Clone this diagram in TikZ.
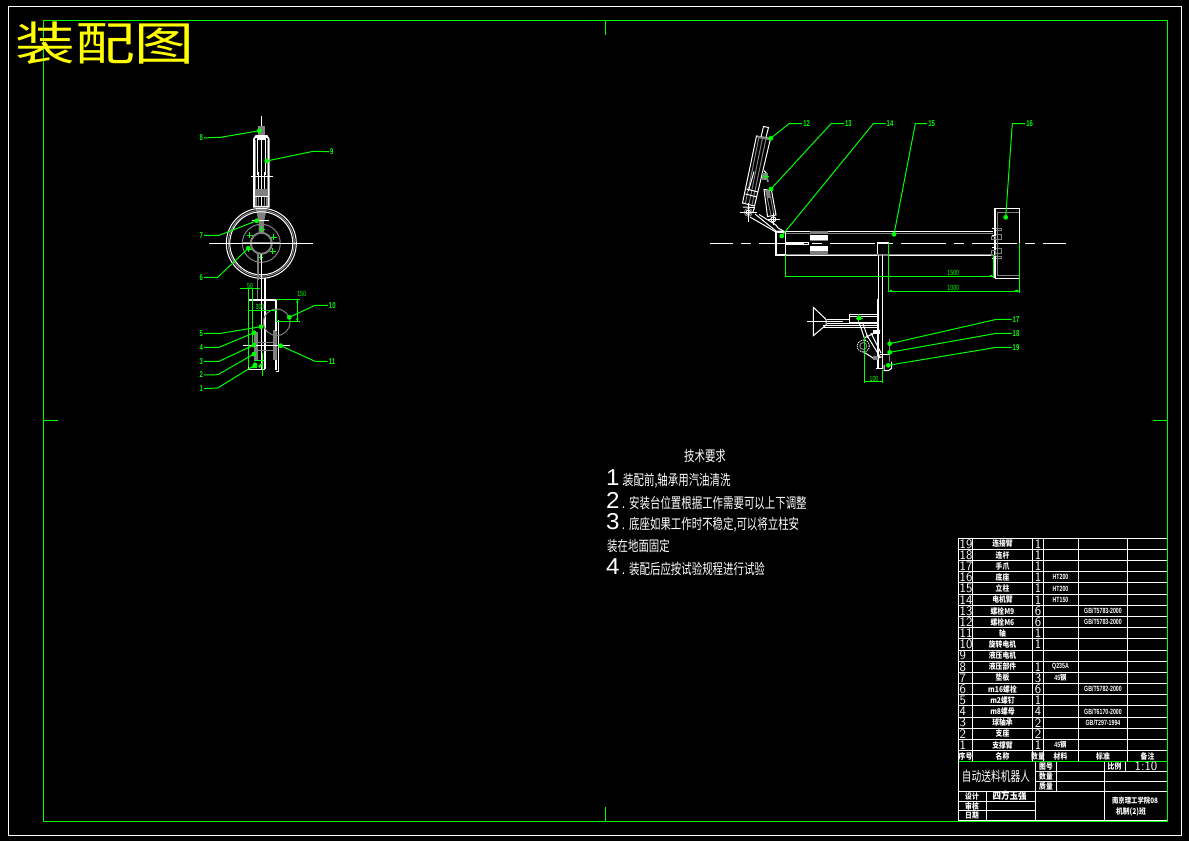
\documentclass[tikz,border=0pt]{standalone}
\usepackage{fontspec}
\usetikzlibrary{calc}
\newfontfamily\cjkbig[FakeStretch=1.3]{Noto Sans CJK SC}
\newfontfamily\cjknote[FakeStretch=0.72]{Noto Sans CJK SC}
\newfontfamily\cjkcell[FakeStretch=0.85]{Noto Sans CJK SC}
\newfontfamily\cadnum[FakeStretch=0.7]{Liberation Sans}
\newfontfamily\cadwide[FakeStretch=1.05]{Liberation Sans}
\newcommand{\bigd}[2]{\makebox[#1pt][l]{{\cadwide\fontsize{23}{23}\selectfont #2}\,.}}
\definecolor{cadgreen}{RGB}{0,255,0}
\definecolor{cadgray}{RGB}{128,128,128}
\definecolor{cadyellow}{RGB}{255,255,0}
\tikzset{
  wl/.style={draw=white, line width=1pt},
  wt/.style={draw=white, line width=1.6pt},
  gl/.style={draw=cadgray, line width=1pt},
  gt/.style={draw=cadgray, line width=2pt},
  gr/.style={draw=cadgreen, line width=1pt},
  numlbl/.style={text=cadgreen, inner sep=1pt, font=\cadnum\fontsize{8.5}{8.5}\selectfont\bfseries},
  dimlbl/.style={text=cadgreen, inner sep=0pt, font=\cadnum\fontsize{7.5}{7.5}\selectfont},
  note/.style={text=white, anchor=west, inner sep=0pt, font=\cjknote\fontsize{14.5}{15}\selectfont},
  cell/.style={text=white, inner sep=0pt, font=\cjkcell\bfseries\fontsize{8}{8}\selectfont},
  cellnum/.style={text=white, inner sep=0pt, font=\sffamily\fontsize{13}{13}\selectfont},
  cellsm/.style={text=white, inner sep=0pt, font=\cadnum\fontsize{7.5}{8}\selectfont\bfseries},
}
\begin{document}
\begin{tikzpicture}[x=1pt, y=-1pt]
  \fill[black] (0,0) rectangle (1189,841);
  \useasboundingbox (0,0) rectangle (1189,841);
  % frames
  \draw[wl] (8.5,6) rectangle (1181.7,835);
  \draw[gr] (43.5,20.5) rectangle (1167,821);
  \draw[gr] (605.5,20.5) -- (605.5,35);
  \draw[gr] (605.5,807) -- (605.5,821);
  \draw[gr] (43.5,420.5) -- (58,420.5);
  \draw[gr] (1153,420.5) -- (1167,420.5);
  \node[text=cadyellow, inner sep=0pt, font=\cjkbig\fontsize{46}{46}\selectfont] (heading) at (105,43) {装配图};

  % left view, cylinder
  \draw[wl] (261.3,116) -- (261.3,208);
  \fill[cadgray] (258,126) rectangle (264.7,136);
  \draw[wt] (254,206.7) -- (254,139) -- (256,136) -- (267,136) -- (268.7,139) -- (268.7,206.7) -- cycle;
  \draw[wl] (256,137.5) -- (267,137.5);
  \draw[wt] (257,139) -- (266,139);
  \draw[gl] (255.5,140) -- (255.5,190);
  \draw[gl] (267,140) -- (267,190);
  \draw[wl] (257.5,140) -- (257.5,175);
  \draw[wl] (265.5,140) -- (265.5,175);
  \draw[wl] (251,176.7) -- (272.7,176.7);
  \draw[wl] (258,172) -- (258,190) (264.5,172) -- (264.5,190);
  \fill[cadgray] (255,189) rectangle (267.5,197);
  \draw[gt] (256,197) -- (256,206) (266.5,197) -- (266.5,206);
  \draw[gl] (258.5,197) -- (258.5,206) (264,197) -- (264,206);
  \draw[wl] (255,196) -- (267.5,196);
  \fill[cadgray] (255.5,207) -- (267,207) -- (264,222) -- (264,232) -- (258.5,232) -- (258.5,222) -- cycle;
  \draw[wl] (252,220.5) -- (269,220.5);

  % left view, wheel
  \coordinate (wheelc) at (261.3,243.3);
  \draw[wl] (wheelc) circle (35);
  \draw[gl] (wheelc) circle (33);
  \draw[wl] (wheelc) circle (31.5);
  \draw[gl] (wheelc) circle (19);
  \draw[gt] (wheelc) circle (10.5);
  \draw[gt] (242,243.3) -- (280,243.3);
  \draw[wl] (209,243.3) -- (312.7,243.3);
  \foreach \a in {-88,-25,35,95,155,215} {
    \draw[gr] ($(wheelc)+(\a:14)+(-3,0)$) -- ($(wheelc)+(\a:14)+(3,0)$);
    \draw[gr] ($(wheelc)+(\a:14)+(0,-3)$) -- ($(wheelc)+(\a:14)+(0,3)$);
  }
  \draw[gt] (258,254) -- (258,280);
  \draw[wl] (261.5,254) -- (261.5,370);
  \draw[gl] (257.5,280) -- (257.5,300);
  \draw[wt] (265,278) -- (265,369);

  % left view, lower box
  \draw[wt] (248,299.7) -- (276,299.7) -- (276,370);
  \draw[wl] (278,320) -- (278,371) -- (276,371);
  \draw[wl] (248,299.7) -- (248,369) -- (265,369);
  \draw[gl] (276.7,322.3) circle (13.3);
  \fill[cadgray] (254,332) rectangle (257.5,360);
  \fill[cadgray] (273,330) rectangle (276.5,360);
  \draw[gl] (254,342.5) -- (276,342.5);
  \draw[gl] (254,350) -- (276,350);
  \draw[wl] (243,345.7) -- (290,345.7);
  \draw[wt] (276,322) -- (276,331);
  % left view, dimensions
  \draw[gr] (248,288) -- (248,367);
  \draw[gr] (252.7,288) -- (252.7,343);
  \draw[gr] (240,288.3) -- (260,288.3);
  \node[dimlbl] (dimfifty) at (250,286) {50};
  \draw[gr] (248,310) -- (276.7,310);
  \node[dimlbl] (dimthree) at (260,307) {300};
  \draw[gr] (276.7,309) -- (276.7,322);
  \draw[gr] (276.7,321.3) -- (300,321.3);
  \draw[gr] (276,299.3) -- (300,299.3);
  \draw[gr] (297.3,300) -- (297.3,321);
  \fill[cadgreen] (297.3,302) circle (1.3) (297.3,319) circle (1.3);
  \node[dimlbl] (dimfifteen) at (301.7,293.5) {150};
  \draw[gr] (262.7,353) -- (262.7,376);
  \draw[gr] (254,360.5) -- (264,360.5);
  \fill[cadgreen] (258,366) -- (263,362) -- (260,368) -- cycle;
  \fill[cadgreen] (251,368) -- (255,362) -- (257,368) -- cycle;

  % right view, arm
  \draw[wl, dash pattern=on 45pt off 8pt on 10pt off 8pt, dash phase=22pt] (710,243.3) -- (1066,243.3);
  \draw[wt] (785,232) -- (776,232) -- (776,255) -- (785,255);
  \draw[wl] (776,231.7) -- (993.3,231.7);
  \draw[wl] (776,255.3) -- (993.3,255.3);
  \draw[gl] (785,233.5) -- (993.3,233.5);
  \draw[gl] (785,254) -- (993.3,254);
  \draw[wl] (785,232) -- (785,255);
  \draw[wl] (785,242.5) -- (808.5,242.5);
  \draw[wl] (808.5,242.5) -- (808.5,244.5) -- (785,244.5);
  \fill[cadgray] (810,231) rectangle (828,233);
  \fill[white] (810,235) rectangle (828,240);
  \fill[cadgray] (810,240) rectangle (828,241);
  \fill[white] (810,246) rectangle (828,251);
  \fill[cadgray] (810,251) rectangle (828,254);

  % right view, flange
  \draw[wt] (995,208.3) -- (1019.3,208.3) (995,278.3) -- (1019.3,278.3) (995,208.3) -- (995,278.3);
  \draw[wl] (1019.3,208.3) -- (1019.3,278.3);
  \draw[gl] (1019,212.3) -- (997.3,212.3) -- (997.3,275.3) -- (1019,275.3);
  \foreach \ya/\yb in {228.3/230.7,234/239.3,248.3/253.3,256/258.7} {
    \draw[gl] (995,\ya) rectangle (1001.5,\yb);
  }
  \draw[wt] (992,228.5) -- (995,228.5) -- (995,235.5) -- (992,235.5);
  \draw[gl] (991,236) rectangle (995,239.5);
  \draw[wt] (992,247.5) -- (995,247.5) -- (995,258.5) -- (992,258.5);
  \draw[gl] (991,250) rectangle (995,255);

  % right view, cylinders
  \draw[wl] (763.5,126.5) -- (768.5,127.5) -- (765.7,138.5) -- (761,137) -- cycle;
  \draw[wl] (756.5,136) -- (770.5,138.5) -- (754.5,206) -- (742.5,203) -- cycle;
  \draw[gt] (758,137) -- (769,139);
  \draw[gl] (759,137) -- (745.5,203) (762.5,138) -- (749,204) (766,138.5) -- (752,205);
  \draw[wl] (748.5,191) -- (754,171.5);
  \draw[wl] (746.5,189) -- (758,192) (745.5,194) -- (757,197);
  \draw[wl] (743,207) -- (754.5,207.5) -- (753,212);
  \draw[gl] (748.3,212.3) circle (4);
  \draw[wl] (748.3,212.3) circle (2.2);
  \draw[wl] (740,212.3) -- (757,212.3) (748.3,203) -- (748.3,222);
  \draw[wl] (764,170.5) -- (767,174) -- (768,182);
  \fill[cadgray] (762,173) rectangle (768,180);
  \draw[gr] (763,176.7) -- (769,176.7) (765.7,173) -- (765.7,180);
  \draw[wl] (764,189.5) -- (771.5,190.5) -- (776,215) -- (767.5,216.5) -- cycle;
  \fill[cadgray] (765,190) -- (770,191) -- (771,198) -- (767,198) -- cycle;
  \draw[gl] (767,197) -- (771,215) (770.5,197) -- (774,215);
  \draw[wl] (773.3,213) -- (773.3,225) (768,219.3) -- (780,219.3);
  \draw[wl] (773.3,219.3) circle (2.5);
  \draw[wl] (755,214) -- (776,231) -- (783.5,231);
  \draw[wl] (750,217) -- (775,231.5);
  \draw[wl] (759,214.5) -- (776,225) -- (778,228) -- (783.5,231);

  % post and gripper
  \draw[wt] (877.3,242.7) -- (888.7,242.7);
  \draw[wl] (877.3,242.7) -- (877.3,255);
  \draw[gt] (877.3,254.5) -- (888.7,254.5);
  \draw[wl] (878.3,255) -- (878.3,368);
  \draw[wl] (882.3,255) -- (882.3,368);
  \draw[wt] (877.3,299) -- (877.3,368);
  \draw[wl] (876,368.3) -- (883,368.3);
  \draw[wl] (880,354.5) -- (889,354.5) -- (889,340);
  \draw[gl] (889.3,339) -- (889.3,362);
  \draw[wl] (884,365) -- (884,370.7) -- (888.3,370.7) -- (891.7,368.3) -- (891.7,361.7);
  \draw[wl] (813.3,307.3) -- (826,319.3) -- (826,325) -- (813.3,335.7) -- cycle;
  \draw[wl] (807,321.3) -- (843,321.3);
  \draw[wl] (826.7,319.3) -- (849.3,319.3);
  \draw[wl] (826.7,323.3) -- (849.3,323.3);
  \draw[wl] (823,325) -- (877.3,325);
  \draw[wl] (823,327.7) -- (877.3,327.7);
  \draw[wl] (849.3,314) -- (877.3,314);
  \draw[wl] (849.3,316) -- (877.3,316);
  \draw[wl] (849.3,314) -- (849.3,323.3) -- (877.3,323.3);
  \fill[white] (849.3,321.5) rectangle (877.3,323.3);
  \draw[gr] (855.5,318.3) -- (863,318.3) (858.7,314) -- (858.7,322);
  \fill[cadgreen] (857,316) rectangle (860.5,320);
  \draw[wl] (859.5,323.5) -- (865,340) (863,324) -- (868,338);
  \draw[wl, densely dotted] (863.3,346) circle (6);
  \draw[gl] (863.3,346) circle (3.5);
  \draw[wl] (865,337.5) -- (880,330.7) (870,335) -- (880,330);
  \fill[white] (872.7,330) rectangle (880,333.5);
  \draw[wl] (863.3,351.7) -- (875,359.3) -- (881.7,356.7);
  \draw[wl] (866.7,335) -- (880,356.7) (871,333) -- (881,353);
  \fill[cadgray] (873,356) rectangle (878,360);
  % right view, dimensions
  \draw[gr] (785,255) -- (785,276.3);
  \draw[gr] (785,276.3) -- (993.3,276.3);
  \draw[gr] (993.3,255) -- (993.3,278);
  \node[dimlbl] (dimlong) at (953.3,273) {1500};
  \draw[gr] (888.3,242.7) -- (888.3,292);
  \draw[gr] (1019.3,243) -- (1019.3,292.7);
  \draw[gr] (888.3,291.3) -- (1019.3,291.3);
  \node[dimlbl] (dimshort) at (953.3,288) {1000};
  \fill[cadgreen] (890,290) rectangle (892,291) (1015,290) rectangle (1018,291) (990,275) rectangle (992,276);
  \draw[gr] (864.3,336.7) -- (864.3,383.3);
  \draw[gr] (882.3,370) -- (882.3,383.3);
  \draw[gr] (864.3,381.7) -- (882.3,381.7);
  \node[dimlbl] (dimhund) at (874,378.5) {100};

  % leaders
  \foreach \n/\tx/\ty/\bx/\by/\dx/\dy in {
    1/201.3/388.7/217.7/388/255/365,
    2/201.3/375/217.7/374.7/254/354,
    3/201.3/361.3/219/361.3/254/345,
    4/201.3/347.3/219/347.3/254/332.7,
    5/201.3/333.3/220.7/333.3/261/326.7,
    6/201.3/277.3/217.7/277.3/248.3/248.3,
    7/201.3/235.3/219.3/235.3/256.7/220.7,
    8/201.3/138/220.7/137.3/259.3/130.7,
    9/331.7/151.7/313.3/151.3/266.7/161,
    10/332.3/305.3/315/305.3/289.3/317.3,
    11/332/361.3/315/361.3/280.7/345.7,
    12/806.7/123.7/789/123.7/770.7/138.3,
    13/848.3/123.7/831/123.7/771/189,
    14/890/123.7/873.3/123.7/781.7/236,
    15/931.7/123.7/915.3/123.7/894/234.3,
    16/1029.7/123.7/1012.3/123.7/1005.7/217.3,
    17/1016/319.3/996.7/319.3/889.7/343.7,
    18/1016/333.3/996.7/333.3/889.7/352.3,
    19/1016/347.3/996.7/347.3/888.3/365.3} {
    \node[numlbl] (lbl\n) at (\tx,\ty) {\n};
    \coordinate (bend\n) at (\bx,\by);
    \coordinate (dot\n) at (\dx,\dy);
    \draw[gr] (dot\n) -- (bend\n) -- (lbl\n);
    \fill[cadgreen] (dot\n) circle (2.4);
  }

  % technical notes
  \node[note, anchor=center] (reqtitle) at (705,456) {技术要求};
  \node[note] (reqa) at (606,479) {\bigd{17}{1}装配前,轴承用汽油清洗};
  \node[note] (reqb) at (606,501) {\bigd{23}{2}安装台位置根据工作需要可以上下调整};
  \node[note] (reqc) at (606,523) {\bigd{23}{3}底座如果工作时不稳定,可以将立柱安};
  \node[note] (reqd) at (607,546) {装在地面固定};
  \node[note] (reqe) at (606,567) {\bigd{23}{4}装配后应按试验规程进行试验};

  % parts table
  \foreach \k in {0,...,20} {
    \draw[wl] (958.3,538.3+11.17*\k) -- (1167,538.3+11.17*\k);
  }
  \draw[gr] (958.3,761.7) -- (1167,761.7);
  \foreach \cx in {958.3,972.7,1032.3,1043.7,1078.3,1127.7} {
    \draw[wl] (\cx,538.3) -- (\cx,761.7);
  }
  \draw[gr] (1167,538.3) -- (1167,821);
  \foreach \n/\nm/\q/\m/\s in {
    19/连接臂/1//,
    18/连杆/1//,
    17/手爪/1//,
    16/底座/1/HT200/,
    15/立柱/1/HT200/,
    14/电机臂/1/HT150/,
    13/螺栓M9/6//GB\slash T5783-2000,
    12/螺栓M6/6//GB\slash T5783-2000,
    11/轴/1//,
    10/旋转电机/1//,
    9/液压电机///,
    8/液压部件/1/Q235A/,
    7/垫板/3/45{\cjkcell 钢}/,
    6/m16螺栓/6//GB\slash T5782-2000,
    5/m2螺钉/1//,
    4/m8螺母/4//GB\slash T6170-2000,
    3/球轴承/2//GB\slash T297-1994,
    2/支座/2//,
    1/支撑臂/1/45{\cjkcell 钢}/} {
    \pgfmathsetmacro{\rowy}{538.3+11.17*(19-\n)+5.6}
    \node[cellnum, anchor=west] (no\n) at (959.5,\rowy) {\n};
    \node[cell] (nm\n) at (1002.5,\rowy) {\nm};
    \node[cellnum] (qt\n) at (1038,\rowy) {\q};
    \node[cellsm] (mt\n) at (1060.5,\rowy) {\m};
    \node[cellsm] (st\n) at (1103,\rowy) {\s};
  }
  \node[cell] (hdno) at (965.5,756) {序号};
  \node[cell] (hdnm) at (1002.5,756) {名称};
  \node[cell] (hdqt) at (1038,756) {数量};
  \node[cell] (hdmt) at (1060.5,756) {材料};
  \node[cell] (hdst) at (1103,756) {标准};
  \node[cell] (hdre) at (1147.5,756) {备注};

  % title block
  \draw[wl] (958.3,761.7) -- (958.3,821);
  \draw[wl] (1035.7,761.7) -- (1035.7,821);
  \draw[wl] (1056.7,761.7) -- (1056.7,791.3);
  \draw[wl] (1104.3,761.7) -- (1104.3,821);
  \draw[wl] (1125.7,761.7) -- (1125.7,771.3);
  \draw[wl] (986.7,791.3) -- (986.7,821);
  \draw[wl] (1035.7,771.3) -- (1167,771.3);
  \draw[wl] (1035.7,781.3) -- (1167,781.3);
  \draw[wl] (958.3,791.3) -- (1167,791.3);
  \draw[wl] (958.3,801) -- (1035.7,801);
  \draw[wl] (958.3,810.7) -- (1035.7,810.7);
  \draw[wl] (958.3,820.7) -- (1167,820.7);
  \node[text=white, inner sep=0pt, font=\cjknote\fontsize{13.5}{15}\selectfont] (drawname) at (996,776) {自动送料机器人};
  \node[cell] (fieldno) at (1046,766.5) {图号};
  \node[cell] (fieldqty) at (1046,776.3) {数量};
  \node[cell] (fieldmass) at (1046,786.3) {质量};
  \node[cell] (fieldratio) at (1114.5,766.5) {比例};
  \node[cellnum] (ratio) at (1146,766.5) {1:10};
  \node[cell] (fieldby) at (972,796) {设计};
  \node[cell, font=\cjkcell\bfseries\fontsize{10}{10}\selectfont] (designer) at (1009.5,796) {四方玉强};
  \node[cell] (fieldchk) at (972,806) {审核};
  \node[cell] (fielddate) at (972,815.5) {日期};
  \node[cell, font=\cjkcell\bfseries\fontsize{7.5}{8}\selectfont] (school) at (1135,800.5) {南京理工学院08};
  \node[cell] (classname) at (1131,812) {机制(2)班};
\end{tikzpicture}
\end{document}
